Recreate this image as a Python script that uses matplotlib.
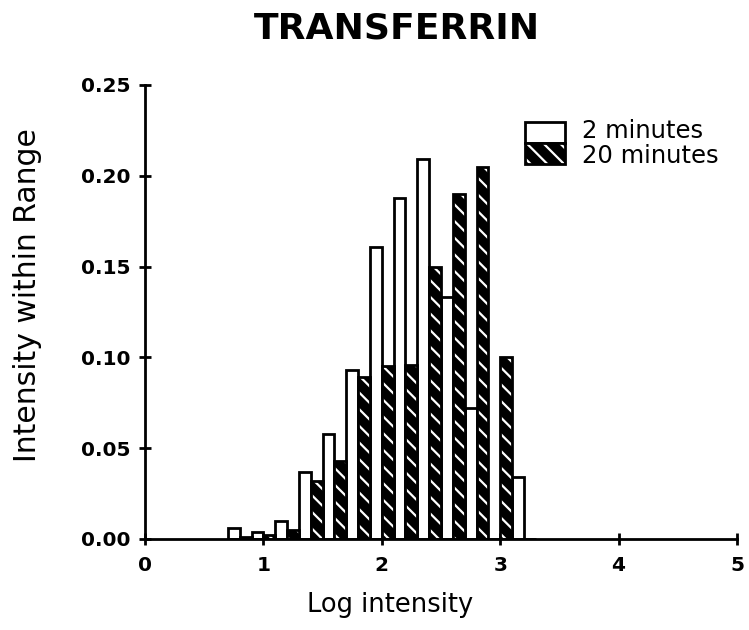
import matplotlib
matplotlib.use("Agg")
import matplotlib.pyplot as plt
from matplotlib.patches import Rectangle
import numpy as np

# right edge of each 0.2 log-intensity bin (white bar sits left, hatched right)
log_bins = [0.8, 1.0, 1.2, 1.4, 1.6, 1.8, 2.0, 2.2, 2.4, 2.6, 2.8, 3.0, 3.2]
two_min = [0.006, 0.004, 0.010, 0.037, 0.058, 0.093, 0.161, 0.188, 0.209,
           0.133, 0.072, 0.0, 0.034]
twenty_min = [0.001, 0.002, 0.005, 0.032, 0.043, 0.089, 0.095, 0.096, 0.150,
              0.190, 0.205, 0.100, 0.0]
legend_labels = ["2 minutes", "20 minutes"]
x_ticks = [0, 1, 2, 3, 4, 5]
y_ticks = [0.0, 0.05, 0.10, 0.15, 0.20, 0.25]

plt.rcParams['font.family'] = 'DejaVu Sans'
plt.rcParams['hatch.linewidth'] = 1.6

bar_w = 0.1
x = np.array(log_bins)

fig = plt.figure(figsize=(7.49, 6.30), dpi=100)
ax = fig.add_axes([145 / 749, 1 - 539 / 630, 592 / 749, 454 / 630])

# white bars (2 minutes)
ax.bar(x - bar_w, two_min, width=bar_w, align='edge', facecolor='white',
       edgecolor='black', linewidth=2, zorder=2)
# hatched bars (20 minutes): black fill with white hatching, then outline
ax.bar(x, twenty_min, width=bar_w, align='edge', facecolor='black',
       edgecolor='white', hatch='\\\\', linewidth=0, zorder=3)
ax.bar(x, twenty_min, width=bar_w, align='edge', fill=False,
       edgecolor='black', linewidth=2, zorder=4)

ax.set_xlim(0, 5)
ax.set_ylim(0, 0.25)
ax.set_xticks(x_ticks)
ax.set_yticks(y_ticks)
ax.set_xticklabels([str(t) for t in x_ticks], fontsize=14.5, fontweight='bold')
ax.set_yticklabels([f"{t:.2f}" for t in y_ticks], fontsize=14.5, fontweight='bold')

for side in ['top', 'right']:
    ax.spines[side].set_visible(False)
for side in ['left', 'bottom']:
    ax.spines[side].set_linewidth(2)
    ax.spines[side].set_zorder(5)
ax.tick_params(axis='y', direction='inout', length=9, width=2, pad=6)
ax.tick_params(axis='x', direction='inout', length=9, width=2, pad=8)

ax.set_xlabel("Log intensity", fontsize=18.5)
ax.xaxis.set_label_coords(0.414, -0.145)
ax.xaxis.label.set_va('center')
ax.set_ylabel("Intensity within Range", fontsize=21.5)
ax.yaxis.set_label_coords(-0.199, 0.537)
ax.yaxis.label.set_va('center')

fig.text(0.53, 0.954, "TRANSFERRIN", fontsize=26, fontweight='bold',
         ha='center', va='center')

# legend drawn by hand: two stacked swatches with tight rows
ax.add_patch(Rectangle((0.642, 0.872), 0.067, 0.046, transform=ax.transAxes,
                       facecolor='white', edgecolor='black', linewidth=2,
                       clip_on=False, zorder=6))
ax.add_patch(Rectangle((0.642, 0.826), 0.067, 0.046, transform=ax.transAxes,
                       facecolor='black', edgecolor='white', hatch='\\\\',
                       linewidth=0, clip_on=False, zorder=6))
ax.add_patch(Rectangle((0.642, 0.826), 0.067, 0.046, transform=ax.transAxes,
                       fill=False, edgecolor='black', linewidth=2,
                       clip_on=False, zorder=7))
ax.text(0.738, 0.899, legend_labels[0], transform=ax.transAxes, fontsize=17.5,
        ha='left', va='center')
ax.text(0.738, 0.843, legend_labels[1], transform=ax.transAxes, fontsize=17.5,
        ha='left', va='center')

fig.savefig("out.png", dpi=100)
